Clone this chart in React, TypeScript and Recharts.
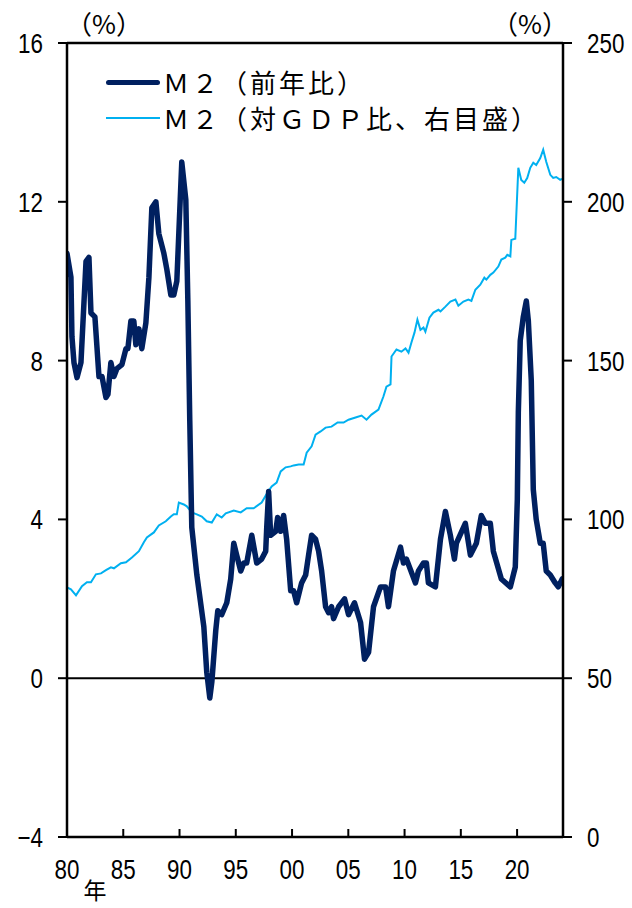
import { ComposedChart, Line, ReferenceLine, XAxis, YAxis } from "recharts";

// M2 前年比 (%), left axis
const yoyYears = [
  1980.0, 1980.35, 1980.44, 1980.62, 1980.89, 1981.24, 1981.69, 1981.95, 1982.13, 1982.48,
  1982.84, 1983.11, 1983.46, 1983.64, 1983.9, 1984.17, 1984.44, 1984.88, 1985.24, 1985.41,
  1985.68, 1985.94, 1986.12, 1986.39, 1986.65, 1987.01, 1987.28, 1987.54, 1987.9, 1988.16,
  1988.61, 1988.87, 1989.23, 1989.49, 1989.76, 1990.2, 1990.56, 1990.74, 1990.91, 1991.09,
  1991.54, 1992.16, 1992.42, 1992.69, 1992.87, 1993.22, 1993.4, 1993.75, 1994.2, 1994.55,
  1994.82, 1995.08, 1995.44, 1995.71, 1995.97, 1996.42, 1996.86, 1997.3, 1997.66, 1997.75,
  1997.92, 1998.1, 1998.55, 1998.72, 1998.99, 1999.25, 1999.52, 1999.88, 2000.14, 2000.41,
  2000.85, 2001.21, 2001.47, 2001.74, 2002.09, 2002.36, 2002.63, 2002.98, 2003.25, 2003.51,
  2003.69, 2004.14, 2004.67, 2005.02, 2005.55, 2006.09, 2006.44, 2006.8, 2007.24, 2007.86,
  2008.31, 2008.57, 2009.01, 2009.64, 2009.9, 2010.17, 2010.97, 2011.23, 2011.68, 2011.94,
  2012.12, 2012.74, 2013.19, 2013.63, 2014.07, 2014.43, 2014.61, 2015.4, 2015.85, 2016.38,
  2016.82, 2017.18, 2017.62, 2017.89, 2018.6, 2019.4, 2019.84, 2020.02, 2020.11, 2020.28,
  2020.55, 2020.82, 2021.0, 2021.26, 2021.44, 2021.7, 2022.06, 2022.32, 2022.59, 2022.95,
  2023.39, 2023.66, 2024.01,
];
const yoyValues = [
  10.7, 10.1, 8.6, 7.95, 7.57, 7.95, 10.5, 10.6, 9.2, 9.1,
  7.6, 7.6, 7.07, 7.15, 7.95, 7.6, 7.8, 7.9, 8.3, 8.3,
  9.0, 9.0, 8.4, 8.8, 8.3, 8.95, 10.1, 11.85, 12.0, 11.2,
  10.7, 10.3, 9.65, 9.65, 10.0, 13.0, 12.05, 9.5, 6.5, 3.8,
  2.6, 1.3, 0.15, -0.5, -0.1, 1.2, 1.7, 1.6, 1.9, 2.5,
  3.4, 3.1, 2.7, 2.9, 2.9, 3.6, 2.9, 3.0, 3.2, 3.8,
  4.7, 3.6, 3.7, 4.05, 3.7, 4.1, 3.5, 2.2, 2.2, 1.9,
  2.4, 2.6, 3.1, 3.6, 3.5, 3.2, 2.7, 1.8, 1.65, 1.8,
  1.5, 1.8, 2.0, 1.6, 1.9, 1.4, 0.48, 0.65, 1.8, 2.3,
  2.3, 1.8, 2.7, 3.3, 2.9, 3.0, 2.4, 2.7, 2.9, 2.9,
  2.4, 2.3, 3.5, 4.2, 3.6, 3.0, 3.4, 3.9, 3.1, 3.4,
  4.1, 3.9, 3.9, 3.2, 2.5, 2.3, 2.8, 4.5, 6.7, 8.5,
  9.1, 9.5, 9.0, 7.5, 4.75, 4.0, 3.4, 3.4, 2.7, 2.6,
  2.4, 2.3, 2.5,
];

// M2 対GDP比 (%), right axis
const ratioYears = [
  1980.0, 1980.35, 1980.8, 1981.33, 1981.77, 1982.13, 1982.57, 1983.02, 1983.46, 1983.9,
  1984.17, 1984.79, 1985.24, 1985.77, 1986.39, 1986.83, 1987.1, 1987.72, 1988.16, 1988.78,
  1989.23, 1989.49, 1989.76, 1989.94, 1990.38, 1990.65, 1991.09, 1991.54, 1991.98, 1992.42,
  1992.87, 1993.31, 1993.75, 1994.11, 1994.82, 1995.44, 1995.97, 1996.59, 1997.3, 1997.83,
  1998.19, 1998.63, 1998.99, 1999.43, 1999.88, 2000.14, 2000.59, 2001.03, 2001.3, 2001.74,
  2002.09, 2002.54, 2002.98, 2003.51, 2004.05, 2004.58, 2005.02, 2005.64, 2006.18, 2006.62,
  2007.06, 2007.68, 2008.12, 2008.39, 2008.75, 2008.84, 2009.28, 2009.72, 2010.08, 2010.35,
  2010.61, 2010.88, 2011.14, 2011.41, 2011.68, 2011.85, 2012.21, 2012.56, 2013.01, 2013.19,
  2013.63, 2014.07, 2014.52, 2014.78, 2015.23, 2015.67, 2015.94, 2016.29, 2016.73, 2017.09,
  2017.27, 2017.62, 2017.89, 2018.33, 2018.6, 2018.95, 2019.13, 2019.4, 2019.49, 2019.84,
  2020.11, 2020.37, 2020.64, 2020.9, 2021.17, 2021.44, 2021.7, 2022.06, 2022.32, 2022.59,
  2022.95, 2023.21, 2023.48, 2023.83, 2024.01,
];
const ratioValues = [
  78.6, 78.0, 76.1, 79.0, 80.2, 80.2, 82.7, 83.0, 84.0, 84.9,
  84.6, 86.2, 86.5, 88.0, 90.0, 92.8, 94.3, 95.9, 98.1, 99.4,
  100.9, 101.6, 101.6, 105.3, 104.7, 104.1, 102.2, 101.6, 100.9, 99.4,
  99.0, 101.6, 100.6, 101.9, 102.8, 102.2, 103.5, 103.5, 105.3, 108.5,
  110.4, 111.6, 115.1, 116.4, 116.7, 117.0, 117.3, 117.3, 121.0, 123.0,
  126.7, 127.7, 128.9, 129.2, 130.5, 130.5, 131.4, 132.1, 132.7, 131.4,
  133.0, 134.6, 138.7, 141.8, 142.5, 151.3, 153.5, 152.8, 153.8, 152.5,
  155.7, 158.8, 162.9, 159.7, 160.4, 159.1, 163.5, 165.1, 166.0, 165.5,
  167.0, 168.6, 169.2, 167.3, 168.6, 169.2, 168.8, 172.3, 173.9, 176.1,
  175.5, 177.0, 177.7, 179.6, 181.8, 182.4, 183.3, 182.8, 188.0, 188.4,
  210.7, 206.9, 206.0, 207.5, 210.7, 212.3, 211.6, 213.8, 216.4, 212.6,
  208.5, 207.5, 207.8, 206.9, 207.2,
];

const xTicks = [1980, 1985, 1990, 1995, 2000, 2005, 2010, 2015, 2020];
const xTickLabels = ["80", "85", "90", "95", "00", "05", "10", "15", "20"];
const leftTicks = [-4, 0, 4, 8, 12, 16];
const rightTicks = [0, 50, 100, 150, 200, 250];

const yoyData = yoyYears.map((x, i) => ({ x, v: yoyValues[i] }));
const ratioData = ratioYears.map((x, i) => ({ x, v: ratioValues[i] }));

const NUM = "'Liberation Sans', Arial, sans-serif";
const JP = "'Noto Sans CJK JP', 'Noto Sans', sans-serif";
const DARK = "#002060";
const LIGHT = "#00b0f0";
const SQUEEZE = 0.8; // digits in the original are narrow

function NarrowText({ x, y, anchor, children }: any) {
  return (
    <text
      transform={`translate(${x},${y}) scale(${SQUEEZE},1)`}
      dy="0.36em"
      textAnchor={anchor}
      fontSize={28}
      fontFamily={NUM}
      fill="#000"
    >
      {children}
    </text>
  );
}

function LeftTick(props: any) {
  const { x, y, payload } = props;
  return <NarrowText x={x} y={y} anchor="end">{payload.value === -4 ? "\u22124" : payload.value}</NarrowText>;
}

function RightTick(props: any) {
  const { x, y, payload } = props;
  return <NarrowText x={x} y={y} anchor="start">{payload.value}</NarrowText>;
}

function YearTick(props: any) {
  const { x, y, payload } = props;
  const i = xTicks.indexOf(payload.value);
  return (
    <g>
      <line x1={x} x2={x} y1={y} y2={y - 8} stroke="#000" strokeWidth={2} />
      <NarrowText x={x} y={y + 32} anchor="middle">{xTickLabels[i]}</NarrowText>
    </g>
  );
}

export default function App() {
  return (
    <div style={{ position: "fixed", left: 0, top: 0, width: 632, height: 908, overflow: "hidden", background: "#fff" }}>
      <ComposedChart
        width={632}
        height={908}
        margin={{ top: 43, right: 0, bottom: 0, left: 0 }}
      >
        <XAxis
          dataKey="x"
          type="number"
          domain={[1980, 2024.08]}
          allowDataOverflow
          ticks={xTicks}
          interval={0}
          height={71}
          tickLine={false}
          tickSize={0}
          tickMargin={0}
          axisLine={{ stroke: "#000", strokeWidth: 2.5 }}
          tick={<YearTick />}
        />
        <YAxis
          yAxisId="left"
          domain={[-4, 16]}
          ticks={leftTicks}
          interval={0}
          width={67}
          tickSize={9}
          tickMargin={15}
          axisLine={{ stroke: "#000", strokeWidth: 2.5 }}
          tickLine={{ stroke: "#000", strokeWidth: 2 }}
          tick={<LeftTick />}
        />
        <YAxis
          yAxisId="right"
          orientation="right"
          domain={[0, 250]}
          ticks={rightTicks}
          interval={0}
          width={69}
          tickSize={9}
          tickMargin={15}
          axisLine={{ stroke: "#000", strokeWidth: 2.5 }}
          tickLine={{ stroke: "#000", strokeWidth: 2 }}
          tick={<RightTick />}
        />
        <ReferenceLine yAxisId="left" y={16} stroke="#000" strokeWidth={2.5} />
        <ReferenceLine yAxisId="left" y={0} stroke="#000" strokeWidth={2} />
        <Line
          yAxisId="right"
          data={ratioData}
          dataKey="v"
          type="linear"
          stroke={LIGHT}
          strokeWidth={2}
          dot={false}
          isAnimationActive={false}
        />
        <Line
          yAxisId="left"
          data={yoyData}
          dataKey="v"
          type="linear"
          stroke={DARK}
          strokeWidth={5.5}
          strokeLinejoin="round"
          strokeLinecap="round"
          dot={false}
          isAnimationActive={false}
        />
      </ComposedChart>

      {/* axis units */}
      <div style={{ position: "absolute", left: 64, top: 7, width: 80, textAlign: "center", fontSize: 26, fontFamily: JP, lineHeight: "32px" }}>
        （%）
      </div>
      <div style={{ position: "absolute", left: 490, top: 7, width: 80, textAlign: "center", fontSize: 26, fontFamily: JP, lineHeight: "32px" }}>
        （%）
      </div>

      {/* x axis unit */}
      <div style={{ position: "absolute", left: 80, top: 877, width: 30, textAlign: "center", fontSize: 23, fontFamily: JP, lineHeight: "24px" }}>
        年
      </div>

      {/* legend */}
      <div style={{ position: "absolute", left: 106, top: 64, fontFamily: JP, fontSize: 26, letterSpacing: 3, lineHeight: "36px", color: "#000" }}>
        <div style={{ display: "flex", alignItems: "center", whiteSpace: "nowrap" }}>
          <span style={{ display: "inline-block", width: 54, height: 5, borderRadius: 3, background: DARK, marginRight: 3 }} />
          Ｍ２（前年比）
        </div>
        <div style={{ display: "flex", alignItems: "center", whiteSpace: "nowrap" }}>
          <span style={{ display: "inline-block", width: 54, height: 2, background: LIGHT, marginRight: 3 }} />
          Ｍ２（対ＧＤＰ比、右目盛）
        </div>
      </div>
    </div>
  );
}
